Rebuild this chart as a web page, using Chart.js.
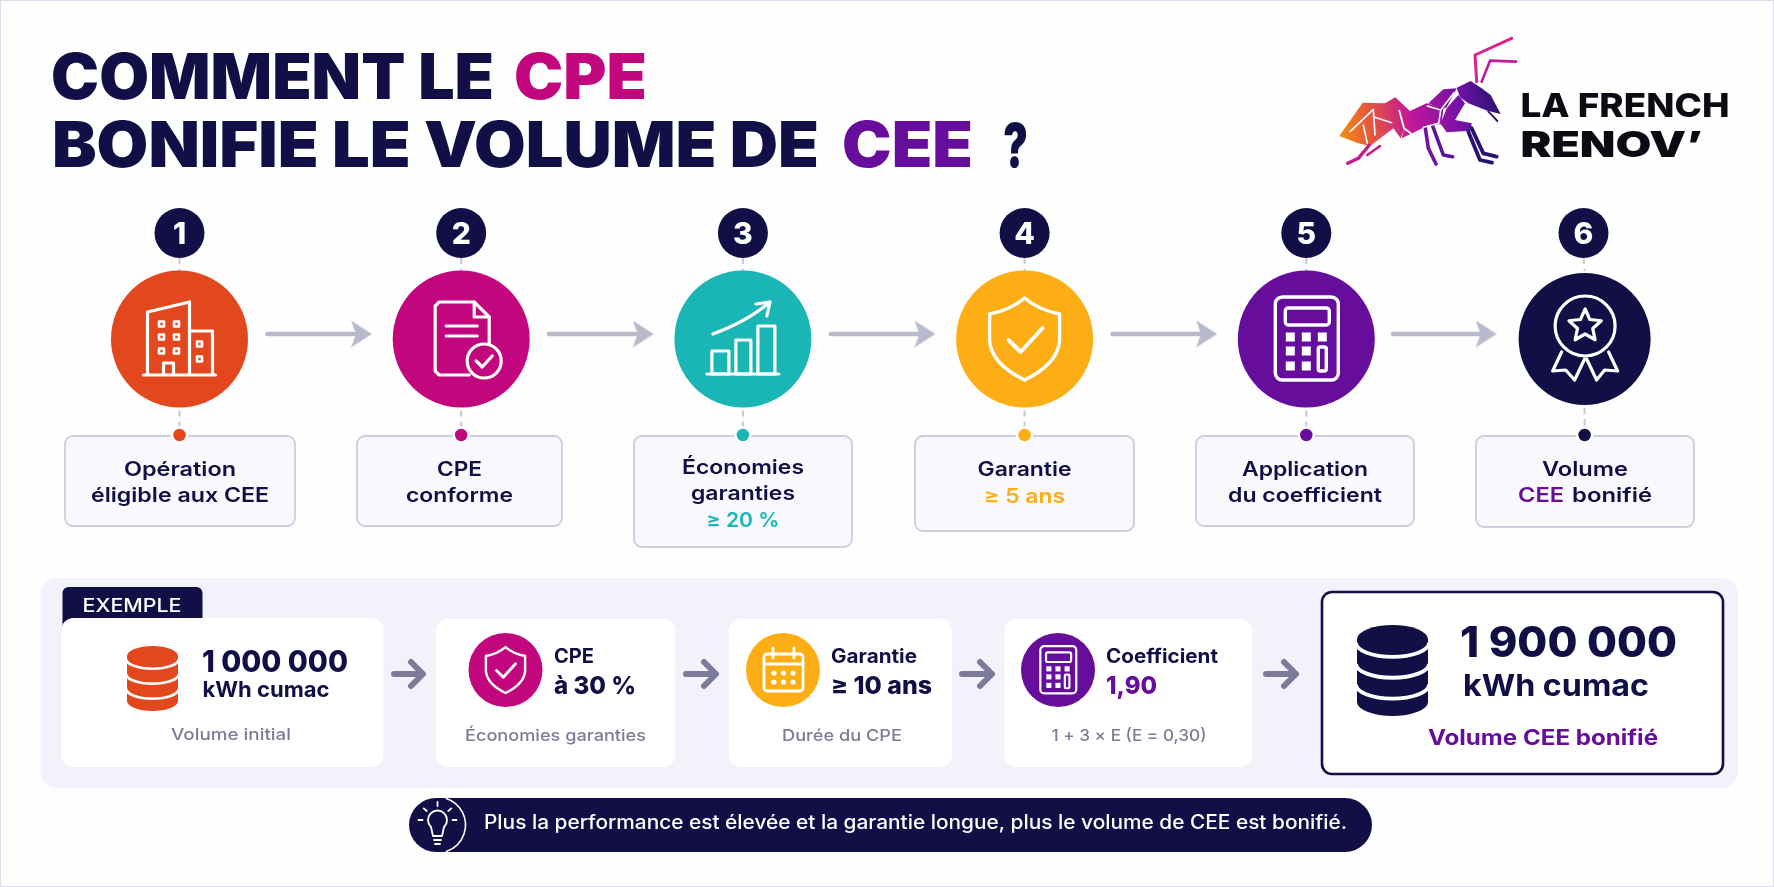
<!DOCTYPE html>
<html lang="fr">
<head>
<meta charset="utf-8">
<title>Comment le CPE bonifie le volume de CEE ?</title>
<script src="https://cdn.jsdelivr.net/npm/chart.js@4"></script>
<style>
  html, body { margin: 0; background: #fefefe; }
  canvas { display: block; }
</style>
</head>
<body>
<canvas id="flow" width="1774" height="887"></canvas>
<script>
// data
const stepNumbers = [1, 2, 3, 4, 5, 6];
const stepLines = [
  ["Opération", "éligible aux CEE"],
  ["CPE", "conforme"],
  ["Économies", "garanties", "≥ 20 %"],
  ["Garantie", "≥ 5 ans"],
  ["Application", "du coefficient"],
  ["Volume", "CEE bonifié"]
];
const volumeInitial = "1 000 000";
const volumeFinal = "1 900 000";
const volumeUnit = "kWh cumac";
const economies = "à 30 %";
const garantie = "≥ 10 ans";
const coefficient = "1,90";
const formula = "1 + 3 × E (E = 0,30)";

// palette
const NAVY = "#120e46", ORANGE = "#e2471d", MAGENTA = "#c2067e", TEAL = "#1ab5b5",
      AMBER = "#fcae14", PURPLE = "#660d9c", GREY = "#7c7c98", SOFT = "#b9b9cc", PAGE = "#fefefe";
const stepColors = [ORANGE, MAGENTA, TEAL, AMBER, PURPLE, NAVY];

// layout, canvas pixels
const FONT = "Inter, sans-serif";
const Y_BADGE = 233, Y_CIRCLE = 339, Y_ARROW = 334, Y_DOT = 435;
const stepNudge = [0, 0, 0, 0, 0, -0.012];
const badgeNudge = [0, 0, 0, 0, 0, -0.016];
const stepRadius = [68.5, 68.5, 68.5, 68.5, 68.5, 66];
const boxes = [[65, 230, 90], [357, 205, 90], [634, 218, 111], [915, 219, 95], [1196, 218, 90], [1476, 218, 91]];
const lineWidths = [[112, 178], [45, 107], [122, 104, 73], [94, 81], [126, 154], [86, 134]];
const lineBaselines = [[476, 502], [476, 502], [474, 500, 527], [476, 503], [476, 502], [476, 502]];

const stepX = stepNumbers.map((n, i) => n + stepNudge[i]);
const badgeX = stepNumbers.map((n, i) => n + badgeNudge[i]);

function arrowHead(color, w, h, notch) {
  const c = document.createElement("canvas");
  c.width = w; c.height = h;
  const g = c.getContext("2d");
  g.fillStyle = color;
  g.beginPath();
  g.moveTo(w, h / 2);
  g.lineTo(0, 0);
  g.lineTo(notch, h / 2);
  g.lineTo(0, h);
  g.closePath();
  g.fill();
  return c;
}
const softHead = arrowHead(SOFT, 21, 27, 5);

// o.w stretches the line sideways to the width seen in the picture
function put(ctx, text, x, y, o) {
  ctx.font = `${o.weight || 600} ${o.size}px ${FONT}`;
  ctx.fillStyle = o.color || NAVY;
  ctx.textAlign = o.align || "left";
  ctx.textBaseline = "alphabetic";
  ctx.save();
  ctx.translate(x, y);
  if (o.w) ctx.scale(o.w / ctx.measureText(text).width, 1);
  ctx.fillText(text, 0, 0);
  ctx.restore();
}

function rrect(ctx, x, y, w, h, r, fill, stroke, lw) {
  ctx.beginPath();
  ctx.roundRect(x, y, w, h, r);
  if (fill) { ctx.fillStyle = fill; ctx.fill(); }
  if (stroke) { ctx.strokeStyle = stroke; ctx.lineWidth = lw; ctx.stroke(); }
}

function pen(ctx, color, lw) {
  ctx.strokeStyle = color;
  ctx.lineWidth = lw;
  ctx.lineJoin = "round";
  ctx.lineCap = "round";
}

function path(ctx, pts, close) {
  ctx.beginPath();
  pts.forEach((p, i) => i ? ctx.lineTo(p[0], p[1]) : ctx.moveTo(p[0], p[1]));
  if (close) ctx.closePath();
}

function withIcon(ctx, cx, cy, s, fn) {
  ctx.save();
  ctx.translate(cx, cy);
  ctx.scale(s, s);
  fn();
  ctx.restore();
}

function iconBuilding(ctx, cx, cy) {
  withIcon(ctx, cx, cy, 1, () => {
    pen(ctx, "#fff", 3.2);
    path(ctx, [[-32, 35], [-32, -27], [10, -37], [10, 35]]); ctx.stroke();
    path(ctx, [[10, -8], [33, -8], [33, 35]]); ctx.stroke();
    path(ctx, [[-36, 36], [36, 36]]); ctx.stroke();
    path(ctx, [[-16, 35], [-16, 24], [-6, 24], [-6, 35]]); ctx.stroke();
    ctx.lineWidth = 2.6;
    [[-18, -15], [-3, -15], [-18, -2], [-3, -2], [-18, 12], [-3, 12], [20, 5], [20, 20]].forEach(p => {
      ctx.strokeRect(p[0] - 2.5, p[1] - 2.5, 5, 5);
    });
  });
}

function iconDoc(ctx, cx, cy, bg) {
  withIcon(ctx, cx, cy, 1, () => {
    pen(ctx, "#fff", 3.2);
    path(ctx, [[8, 36], [-22, 36], [-26, 32], [-26, -33], [-22, -37], [13, -37], [28, -22], [28, 5]]);
    ctx.stroke();
    path(ctx, [[13, -37], [13, -22], [28, -22]]); ctx.stroke();
    path(ctx, [[-15, -13], [16, -13]]); ctx.stroke();
    path(ctx, [[-15, -3], [16, -3]]); ctx.stroke();
    ctx.beginPath(); ctx.arc(23, 22, 17, 0, Math.PI * 2);
    ctx.fillStyle = bg; ctx.fill(); ctx.stroke();
    path(ctx, [[15, 22], [21, 28], [31, 17]]); ctx.stroke();
  });
}

function iconGrowth(ctx, cx, cy) {
  withIcon(ctx, cx, cy, 1, () => {
    pen(ctx, "#fff", 3.2);
    path(ctx, [[-36, 35], [36, 35]]); ctx.stroke();
    ctx.strokeRect(-31, 12, 17, 23);
    ctx.strokeRect(-7, 1, 15, 34);
    ctx.strokeRect(15, -13, 17, 48);
    ctx.beginPath();
    ctx.moveTo(-30, -5);
    ctx.quadraticCurveTo(5, -18, 27, -37);
    ctx.stroke();
    path(ctx, [[13, -35], [27, -37], [24, -23]]); ctx.stroke();
  });
}

function iconShield(ctx, cx, cy, s, lw) {
  withIcon(ctx, cx, cy, s, () => {
    pen(ctx, "#fff", lw / s);
    ctx.beginPath();
    ctx.moveTo(0, -41);
    ctx.quadraticCurveTo(14, -29, 35, -25);
    ctx.lineTo(35, 2);
    ctx.quadraticCurveTo(33, 25, 0, 41);
    ctx.quadraticCurveTo(-33, 25, -35, 2);
    ctx.lineTo(-35, -25);
    ctx.quadraticCurveTo(-14, -29, 0, -41);
    ctx.closePath();
    ctx.stroke();
    ctx.lineWidth = (lw + 0.5) / s;
    path(ctx, [[-16, 1], [-4, 13], [18, -11]]); ctx.stroke();
  });
}

function iconCalc(ctx, cx, cy, s, lw) {
  withIcon(ctx, cx, cy, s, () => {
    pen(ctx, "#fff", lw / s);
    rrect(ctx, -31, -42, 63, 83, 7, null, "#fff", lw / s);
    rrect(ctx, -21, -31, 44, 17, 3, null, "#fff", lw / s);
    ctx.fillStyle = "#fff";
    [[-16, -2], [0, -2], [16, -2], [-16, 12], [0, 12], [-16, 27], [0, 27]].forEach(p => {
      ctx.fillRect(p[0] - 4.5, p[1] - 4.5, 9, 9);
    });
    rrect(ctx, 12, 8, 8, 24, 2, null, "#fff", lw / s);
  });
}

function iconMedal(ctx, cx, cy) {
  withIcon(ctx, cx, cy, 1, () => {
    pen(ctx, "#fff", 3.2);
    ctx.beginPath(); ctx.arc(0.5, -12, 30, 0, Math.PI * 2); ctx.stroke();
    const star = [];
    for (let i = 0; i < 10; i++) {
      const r = i % 2 ? 8 : 17, a = -Math.PI / 2 + i * Math.PI / 5;
      star.push([0.5 + r * Math.cos(a), -12 + r * Math.sin(a)]);
    }
    path(ctx, star, true); ctx.stroke();
    path(ctx, [[-23, 14], [-32, 33], [-19, 32], [-10, 42], [0, 21]]); ctx.stroke();
    path(ctx, [[24, 14], [33, 33], [20, 32], [12, 42], [2, 21]]); ctx.stroke();
  });
}

function iconCalendar(ctx, cx, cy) {
  withIcon(ctx, cx, cy, 1, () => {
    pen(ctx, "#fff", 2.8);
    rrect(ctx, -19, -16, 39, 37, 3, null, "#fff", 2.8);
    path(ctx, [[-19, -6], [20, -6]]); ctx.stroke();
    path(ctx, [[-10, -22], [-10, -12]]); ctx.stroke();
    path(ctx, [[11, -22], [11, -12]]); ctx.stroke();
    ctx.fillStyle = "#fff";
    [[-9, 3], [0.5, 3], [10, 3], [-9, 12], [0.5, 12], [10, 12]].forEach(p => {
      ctx.beginPath(); ctx.arc(p[0], p[1], 2.6, 0, Math.PI * 2); ctx.fill();
    });
  });
}

function iconDb(ctx, cx, top, w, h, color) {
  const rx = w / 2, ry = h * 0.155, bottom = top + h;
  ctx.fillStyle = color;
  ctx.beginPath();
  ctx.ellipse(cx, top + ry, rx, ry, 0, 0, Math.PI * 2);
  ctx.fill();
  ctx.beginPath();
  ctx.moveTo(cx - rx, top + ry);
  ctx.lineTo(cx - rx, bottom - ry);
  ctx.ellipse(cx, bottom - ry, rx, ry, 0, Math.PI, 0, true);
  ctx.lineTo(cx + rx, top + ry);
  ctx.closePath();
  ctx.fill();
  pen(ctx, "#fff", h * 0.042);
  ctx.lineCap = "butt";
  [0.04, 0.27, 0.5].forEach(k => {
    ctx.beginPath();
    ctx.ellipse(cx, top + ry + k * h, rx + 1, ry, 0, Math.PI, 0, true);
    ctx.stroke();
  });
}

function softArrow(ctx, x1, x2, y) {
  pen(ctx, GREY, 6);
  path(ctx, [[x1, y], [x2 - 3, y]]); ctx.stroke();
  path(ctx, [[x2 - 13, y - 12], [x2 - 1, y], [x2 - 13, y + 12]]); ctx.stroke();
}

function drawAnt(ctx) {
  const X = v => 1280 + v / 3, Y = v => 20 + v / 3;
  const g = ctx.createLinearGradient(X(180), Y(340), X(660), Y(260));
  g.addColorStop(0, "#f28c0f");
  g.addColorStop(0.2, "#e6553f");
  g.addColorStop(0.45, "#c2169a");
  g.addColorStop(0.75, "#7412a6");
  g.addColorStop(1, "#2a1272");
  const fillPoly = pts => {
    path(ctx, pts.map(p => [X(p[0]), Y(p[1])]), true);
    ctx.fillStyle = g;
    ctx.fill();
  };
  const strokeLine = (pts, lw, col) => {
    pen(ctx, col || g, lw);
    path(ctx, pts.map(p => [X(p[0]), Y(p[1])]));
    ctx.stroke();
  };
  fillPoly([[178, 348], [248, 248], [315, 250], [346, 232], [392, 275], [362, 355], [340, 325], [270, 378], [235, 370]]);
  fillPoly([[385, 275], [440, 250], [490, 265], [485, 312], [440, 318], [400, 338], [365, 355]]);
  fillPoly([[445, 250], [490, 208], [530, 205], [500, 262], [487, 268]]);
  fillPoly([[530, 203], [572, 183], [605, 205], [632, 225], [662, 282], [622, 272], [565, 250], [540, 232]]);
  fillPoly([[535, 225], [555, 250], [525, 300], [575, 310], [572, 332], [500, 337], [482, 312], [500, 265]]);
  strokeLine([[590, 185], [585, 105], [695, 55]], 3, "#d6248c");
  strokeLine([[605, 185], [630, 122], [708, 125]], 2.6, "#c21a96");
  strokeLine([[625, 275], [640, 290], [652, 303]], 2);
  strokeLine([[268, 375], [235, 415], [203, 430]], 3.4, "#c41a8e");
  strokeLine([[300, 378], [262, 405]], 2.6, "#c41a8e");
  strokeLine([[435, 318], [445, 385], [468, 432]], 3.6, "#7412a6");
  strokeLine([[458, 318], [490, 405], [518, 410]], 3.6, "#5a12a0");
  strokeLine([[575, 325], [610, 400], [650, 410]], 3.8, "#2a1272");
  strokeLine([[565, 335], [600, 420], [636, 428]], 3.8, "#2a1272");
  // white cracks across the abdomen
  strokeLine([[210, 335], [280, 268], [285, 345]], 1.6, "#fff");
  strokeLine([[280, 290], [335, 308]], 1.6, "#fff");
  strokeLine([[250, 315], [262, 370]], 1.6, "#fff");
  strokeLine([[358, 272], [372, 325], [392, 340]], 1.8, "#fff");
  strokeLine([[442, 258], [482, 270], [522, 218]], 1.6, "#fff");
  strokeLine([[482, 272], [476, 310], [430, 322]], 1.6, "#fff");
}

const decor = {
  id: "decor",
  beforeDatasetsDraw(chart) {
    const ctx = chart.ctx;
    ctx.save();
    ctx.fillStyle = PAGE;
    ctx.fillRect(0, 0, 1774, 887);
    ctx.strokeStyle = "#dcdcec";
    ctx.lineWidth = 2;
    ctx.strokeRect(0, 0, 1774, 887);

    boxes.forEach(b => rrect(ctx, b[0], 436, b[1], b[2], 8, "#f8f8fd", "#cdcdde", 1.8));

    rrect(ctx, 40.5, 578, 1697.5, 210, 16, "#f3f2fb");
    rrect(ctx, 62.5, 587, 140, 46, 6, NAVY);
    rrect(ctx, 61.5, 618, 322, 149, 12, "#fff");
    rrect(ctx, 436, 619, 239, 148, 12, "#fff");
    rrect(ctx, 729, 619, 223, 148, 12, "#fff");
    rrect(ctx, 1004.5, 619, 247.5, 148, 12, "#fff");
    rrect(ctx, 1322, 592, 401, 182, 10, "#fff", NAVY, 2.6);
    rrect(ctx, 409, 798, 963, 54, 27, NAVY);
    ctx.restore();
  },
  afterDatasetsDraw(chart) {
    const ctx = chart.ctx, sx = chart.scales.x;
    const px = stepX.map(v => sx.getPixelForValue(v));
    const badgePx = badgeX.map(v => sx.getPixelForValue(v));
    ctx.save();

    // title
    put(ctx, "COMMENT LE", 51, 99, { size: 63, weight: 900, w: 443 });
    put(ctx, "CPE", 514, 99, { size: 63, weight: 900, w: 133, color: MAGENTA });
    put(ctx, "BONIFIE LE VOLUME DE", 52, 166.5, { size: 63, weight: 900, w: 767 });
    put(ctx, "CEE", 842, 166.5, { size: 63, weight: 900, w: 131, color: PURPLE });
    put(ctx, "?", 1003, 166.5, { size: 60, weight: 900, w: 25 });

    // logo
    drawAnt(ctx);
    put(ctx, "LA FRENCH", 1520.5, 116.5, { size: 33, weight: 800, w: 209, color: "#0b0b14" });
    put(ctx, "RENOV’", 1520.5, 156.5, { size: 35, weight: 900, w: 182, color: "#0b0b14" });

    // step numbers and icons
    stepNumbers.forEach((n, i) => {
      put(ctx, String(n), badgePx[i], Y_BADGE + 11, { size: 30, weight: 800, color: "#fff", align: "center" });
    });
    iconBuilding(ctx, px[0], Y_CIRCLE);
    iconDoc(ctx, px[1], Y_CIRCLE, MAGENTA);
    iconGrowth(ctx, px[2], Y_CIRCLE);
    iconShield(ctx, px[3], Y_CIRCLE, 1, 3.4);
    iconCalc(ctx, px[4], Y_CIRCLE, 1, 3.4);
    iconMedal(ctx, px[5], Y_CIRCLE - 1);

    // step captions, last line of steps 3 and 4 takes the accent colour
    stepLines.forEach((lines, i) => {
      lines.forEach((line, j) => {
        const cx = boxes[i][0] + boxes[i][1] / 2, y = lineBaselines[i][j], w = lineWidths[i][j];
        if (i === 5 && j === 1) {
          const word = "CEE", rest = line.slice(word.length);
          put(ctx, word, cx - w / 2, y, { size: 20, w: 46, color: PURPLE });
          put(ctx, rest.trim(), cx - w / 2 + 54, y, { size: 20, w: w - 54 });
        } else {
          const color = (i === 2 && j === 2) ? TEAL : (i === 3 && j === 1) ? AMBER : NAVY;
          put(ctx, line, cx, y, { size: 20, w, color, align: "center" });
        }
      });
    });

    // example row
    put(ctx, "EXEMPLE", 82.5, 612, { size: 18.5, weight: 500, w: 99, color: "#fff" });
    iconDb(ctx, 152.5, 646, 51, 65, ORANGE);
    put(ctx, volumeInitial, 202, 672, { size: 30, weight: 800, w: 146 });
    put(ctx, volumeUnit, 202.5, 697, { size: 21.5, weight: 700, w: 127 });
    put(ctx, "Volume initial", 231, 740, { size: 16.5, weight: 500, w: 120, color: GREY, align: "center" });

    softArrow(ctx, 394, 424, 674);
    ctx.fillStyle = MAGENTA;
    ctx.beginPath(); ctx.arc(505.5, 670, 37, 0, Math.PI * 2); ctx.fill();
    iconShield(ctx, 505.5, 670, 0.56, 2.4);
    put(ctx, "CPE", 554, 663, { size: 19.5, weight: 700, w: 40 });
    put(ctx, economies, 554, 694, { size: 25, weight: 800, w: 82 });
    put(ctx, "Économies garanties", 555.5, 741, { size: 16.5, weight: 500, w: 181, color: GREY, align: "center" });

    softArrow(ctx, 686, 717, 674);
    ctx.fillStyle = AMBER;
    ctx.beginPath(); ctx.arc(783, 670, 37, 0, Math.PI * 2); ctx.fill();
    iconCalendar(ctx, 783, 670);
    put(ctx, "Garantie", 831, 663, { size: 19.5, weight: 700, w: 86 });
    put(ctx, garantie, 831, 694, { size: 25, weight: 800, w: 101 });
    put(ctx, "Durée du CPE", 842, 741, { size: 16.5, weight: 500, w: 120, color: GREY, align: "center" });

    softArrow(ctx, 962, 993, 674);
    ctx.fillStyle = PURPLE;
    ctx.beginPath(); ctx.arc(1058, 670, 37, 0, Math.PI * 2); ctx.fill();
    iconCalc(ctx, 1058, 670, 0.57, 2.2);
    put(ctx, "Coefficient", 1106, 663, { size: 19.5, weight: 700, w: 112 });
    put(ctx, coefficient, 1106, 694, { size: 25, weight: 800, w: 51, color: PURPLE });
    put(ctx, formula, 1129, 741, { size: 16.5, weight: 500, w: 155, color: GREY, align: "center" });

    softArrow(ctx, 1266, 1297, 674);
    iconDb(ctx, 1392.5, 625, 71, 91, NAVY);
    put(ctx, volumeFinal, 1460, 657, { size: 42, weight: 800, w: 217 });
    put(ctx, volumeUnit, 1463, 696, { size: 30, weight: 700, w: 186 });
    put(ctx, "Volume CEE bonifié", 1543, 745, { size: 21, weight: 700, w: 230, color: PURPLE, align: "center" });

    // tip bar
    pen(ctx, "#fff", 1.6);
    ctx.beginPath(); ctx.arc(437.5, 825, 28, -1.25, 1.25); ctx.stroke();
    pen(ctx, "#fff", 1.8);
    ctx.beginPath(); ctx.arc(437.5, 820, 9.5, 0.75, Math.PI - 0.75, true); ctx.stroke();
    path(ctx, [[431, 827], [433, 836], [442, 836], [444, 827]]); ctx.stroke();
    path(ctx, [[434, 840], [441, 840]]); ctx.stroke();
    path(ctx, [[435, 844], [440, 844]]); ctx.stroke();
    [[-90, 14, 18], [-140, 14, 18], [-40, 14, 18], [180, 15, 19], [0, 15, 19]].forEach(r => {
      const a = r[0] * Math.PI / 180;
      path(ctx, [[437.5 + r[1] * Math.cos(a), 820 + r[1] * Math.sin(a)], [437.5 + r[2] * Math.cos(a), 820 + r[2] * Math.sin(a)]]);
      ctx.stroke();
    });
    put(ctx, "Plus la performance est élevée et la garantie longue, plus le volume de CEE est bonifié.", 484, 829, { size: 19.5, weight: 500, w: 863, color: "#fff" });
    ctx.restore();
  }
};

// dashed stems above and below each circle
const stems = stepNumbers.flatMap((n, i) => [
  [badgeX[i], Y_BADGE + 25, stepX[i], 271],
  [stepX[i], Y_CIRCLE + stepRadius[i] + 3, stepX[i], Y_DOT - 8]
]).map(s => ({
  type: "line",
  data: [{ x: s[0], y: s[1] }, { x: s[2], y: s[3] }],
  borderColor: "#c8c8d8",
  borderWidth: 2,
  borderDash: [6, 5],
  pointRadius: 0,
  order: 4
}));

// grey arrows from one step to the next
const arrows = stepNumbers.slice(0, -1).map((n, i) => {
  const gap = stepX[i + 1] - stepX[i];
  return {
    type: "line",
    data: [{ x: stepX[i] + gap * 0.312, y: Y_ARROW }, { x: stepX[i] + gap * 0.646, y: Y_ARROW }],
    borderColor: SOFT,
    borderWidth: 4.5,
    borderCapStyle: "round",
    pointStyle: softHead,
    pointRadius: [0, 10],
    order: 3
  };
});

new Chart(document.getElementById("flow"), {
  type: "scatter",
  data: {
    datasets: [
      {
        label: "Étapes",
        data: stepX.map(x => ({ x, y: Y_CIRCLE })),
        backgroundColor: stepColors,
        borderWidth: 0,
        pointRadius: stepRadius,
        order: 1
      },
      {
        label: "Numéros",
        data: badgeX.map(x => ({ x, y: Y_BADGE })),
        backgroundColor: NAVY,
        borderWidth: 0,
        pointRadius: 25,
        order: 1
      },
      {
        label: "Repères",
        data: stepX.map(x => ({ x, y: Y_DOT })),
        backgroundColor: stepColors,
        borderColor: PAGE,
        borderWidth: 2.5,
        pointRadius: 7.5,
        order: 1
      },
      ...stems,
      ...arrows
    ]
  },
  options: {
    responsive: false,
    animation: false,
    devicePixelRatio: 1,
    layout: { padding: 0, autoPadding: false },
    events: [],
    plugins: {
      legend: { display: false },
      tooltip: { enabled: false },
      title: { display: false }
    },
    scales: {
      // step numbers run along x, so the six circles land where the scale puts them
      x: { type: "linear", display: false, min: 1 - 179.5 / 281.7, max: 1 + (1774 - 179.5) / 281.7 },
      y: { type: "linear", display: false, min: 0, max: 887, reverse: true }
    }
  },
  plugins: [decor]
});
</script>
</body>
</html>
